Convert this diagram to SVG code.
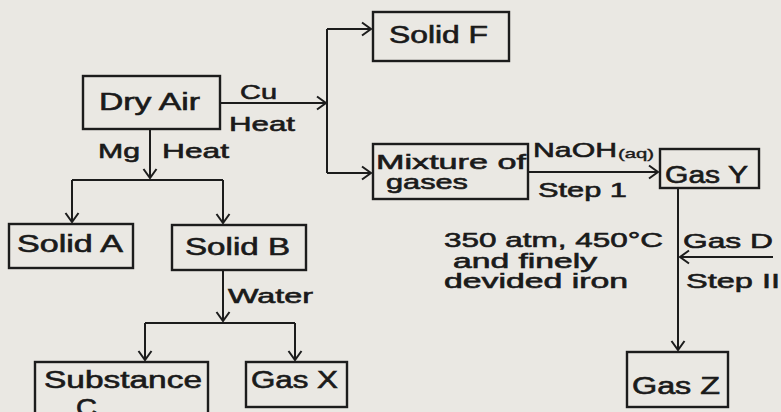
<svg xmlns="http://www.w3.org/2000/svg" width="781" height="412" viewBox="0 0 781 412">
<style>
.bg{fill:#eae8e3}
.box{fill:none;stroke:#1c1c1c;stroke-width:2.4}
.ln{fill:none;stroke:#1c1c1c;stroke-width:2}
.t{font-family:"Liberation Sans",Arial,sans-serif;font-size:23px;fill:#1a1a1a;stroke:#1a1a1a;stroke-width:0.6}
.s{font-family:"Liberation Sans",Arial,sans-serif;font-size:21px;fill:#1a1a1a;stroke:#1a1a1a;stroke-width:0.6}
.sub{font-family:"Liberation Sans",Arial,sans-serif;font-size:13px;fill:#1a1a1a;stroke:#1a1a1a;stroke-width:0.4}
</style>
<defs>
<marker id="ah" markerUnits="userSpaceOnUse" markerWidth="14" markerHeight="16" viewBox="-11 -8 13 16" refX="0" refY="0" orient="auto">
<path d="M-9,-6.5 L0,0 L-9,6.5" fill="none" stroke="#1c1c1c" stroke-width="2"/>
</marker>
</defs>
<rect class="bg" x="0" y="0" width="781" height="412"/>

<g id="connectors">
<path class="ln" d="M220,103 H326" marker-end="url(#ah)"/>
<path class="ln" d="M327,29 V173"/>
<path class="ln" d="M327,29 H371" marker-end="url(#ah)"/>
<path class="ln" d="M327,173 H371" marker-end="url(#ah)"/>
<path class="ln" d="M150,129 V178" marker-end="url(#ah)"/>
<path class="ln" d="M72,180 H223"/>
<path class="ln" d="M72,180 V222" marker-end="url(#ah)"/>
<path class="ln" d="M223,180 V223" marker-end="url(#ah)"/>
<path class="ln" d="M223,270 V321" marker-end="url(#ah)"/>
<path class="ln" d="M145,323 H295"/>
<path class="ln" d="M145,323 V360" marker-end="url(#ah)"/>
<path class="ln" d="M295,323 V360" marker-end="url(#ah)"/>
<path class="ln" d="M528,172 H658" marker-end="url(#ah)"/>
<path class="ln" d="M678,188 V350" marker-end="url(#ah)"/>
<path class="ln" d="M773,257 H680" marker-end="url(#ah)"/>
<text class="s" x="240" y="99" textLength="37" lengthAdjust="spacingAndGlyphs">Cu</text>
<text class="s" x="229" y="131" textLength="66" lengthAdjust="spacingAndGlyphs">Heat</text>
<text class="s" x="98" y="158" textLength="42" lengthAdjust="spacingAndGlyphs">Mg</text>
<text class="s" x="162" y="158" textLength="67" lengthAdjust="spacingAndGlyphs">Heat</text>
<text class="s" x="228" y="303" textLength="85" lengthAdjust="spacingAndGlyphs">Water</text>
<text class="s" x="533" y="157" textLength="84" lengthAdjust="spacingAndGlyphs">NaOH</text>
<text class="sub" x="618" y="158" textLength="36" lengthAdjust="spacingAndGlyphs">(aq)</text>
<text class="s" x="538" y="197" textLength="89" lengthAdjust="spacingAndGlyphs">Step 1</text>
<text class="s" x="444" y="247" textLength="219" lengthAdjust="spacingAndGlyphs">350 atm, 450°C</text>
<text class="s" x="453" y="268" textLength="144" lengthAdjust="spacingAndGlyphs" style="font-size:20px">and finely</text>
<text class="s" x="444" y="288" textLength="184" lengthAdjust="spacingAndGlyphs" style="font-size:20px">devided iron</text>
<text class="s" x="683" y="248" textLength="90" lengthAdjust="spacingAndGlyphs">Gas D</text>
<text class="s" x="686" y="288" textLength="94" lengthAdjust="spacingAndGlyphs">Step II</text>
</g>

<g id="dry-air">
<rect class="box" x="83" y="76" width="137" height="53"/>
<text class="t" x="99" y="110" textLength="101" lengthAdjust="spacingAndGlyphs">Dry Air</text>
</g>
<g id="solid-f">
<rect class="box" x="373" y="12" width="136" height="49"/>
<text class="t" x="389" y="43" textLength="99" lengthAdjust="spacingAndGlyphs">Solid F</text>
</g>
<g id="mixture">
<rect class="box" x="373" y="144" width="155" height="55"/>
<text class="t" x="376" y="169" textLength="150" lengthAdjust="spacingAndGlyphs" style="font-size:21px">Mixture of</text>
<text class="t" x="386" y="189" textLength="82" lengthAdjust="spacingAndGlyphs" style="font-size:21px">gases</text>
</g>
<g id="gas-y">
<rect class="box" x="660" y="149" width="99" height="39"/>
<text class="t" x="665" y="183" textLength="83" lengthAdjust="spacingAndGlyphs">Gas Y</text>
</g>
<g id="solid-a">
<rect class="box" x="9" y="224" width="124" height="44"/>
<text class="t" x="17" y="252" textLength="106" lengthAdjust="spacingAndGlyphs">Solid A</text>
</g>
<g id="solid-b">
<rect class="box" x="172" y="225" width="134" height="45"/>
<text class="t" x="185" y="255" textLength="105" lengthAdjust="spacingAndGlyphs">Solid B</text>
</g>
<g id="substance-c">
<rect class="box" x="35" y="362" width="173" height="60"/>
<text class="t" x="44" y="388" textLength="158" lengthAdjust="spacingAndGlyphs">Substance</text>
<text class="t" x="76" y="416" textLength="21" lengthAdjust="spacingAndGlyphs">C</text>
</g>
<g id="gas-x">
<rect class="box" x="246" y="362" width="101" height="45"/>
<text class="t" x="251" y="388" textLength="87" lengthAdjust="spacingAndGlyphs">Gas X</text>
</g>
<g id="gas-z">
<rect class="box" x="627" y="352" width="101" height="55"/>
<text class="t" x="632" y="394" textLength="88" lengthAdjust="spacingAndGlyphs">Gas Z</text>
</g>
</svg>
